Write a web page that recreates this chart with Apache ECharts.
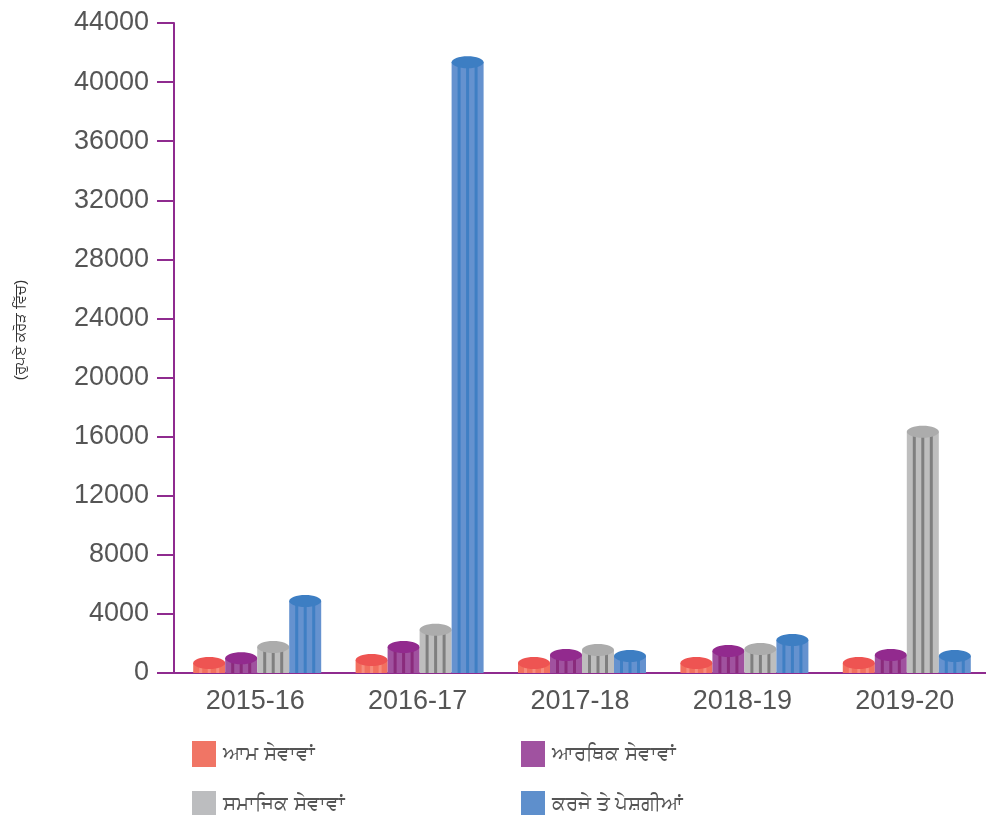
<!DOCTYPE html>
<html lang="pa">
<head>
    <meta charset="UTF-8">
    <title>ਖਰਚਾ</title>
    <script type="text/javascript" src="https://cdn.jsdelivr.net/npm/echarts@6/dist/echarts.min.js"></script>
    <style>
        html, body { margin: 0; padding: 0; background: #fff; }
        #chart { width: 986px; height: 815px; }
    </style>
</head>
<body>
<div id="chart"></div>
<script>
    // ਸਾਲ
    var years = ['2015-16', '2016-17', '2017-18', '2018-19', '2019-20'];
    var names = ['ਆਮ ਸੇਵਾਵਾਂ', 'ਆਰਥਿਕ ਸੇਵਾਵਾਂ', 'ਸਮਾਜਿਕ ਸੇਵਾਵਾਂ', 'ਕਰਜੇ ਤੇ ਪੇਸ਼ਗੀਆਂ'];
    var aamSewavan = [680, 880, 680, 680, 680];
    var aarthikSewavan = [1000, 1760, 1220, 1490, 1220];
    var samajikSewavan = [1760, 2920, 1560, 1630, 16330];
    var karjePeshgian = [4880, 41350, 1150, 2240, 1150];
    var yTicks = { min: 0, max: 44000, step: 4000 };

    var values = [aamSewavan, aarthikSewavan, samajikSewavan, karjePeshgian];
    // top, body, stripe, legend
    var colors = [
        ['#ee5452', '#f2705f', '#f78d7d', '#f07565'],
        ['#922a8e', '#a0529f', '#8a2b7c', '#a052a0'],
        ['#acacac', '#bebebe', '#7f7f7f', '#bcbdbf'],
        ['#3d7ec3', '#6592cf', '#3f7fc4', '#5e8fcc']
    ];
    var BW = 32;

    function cylinder(idx) {
        var c = colors[idx];
        return function (params, api) {
            var base = api.coord([api.value(0), 0]);
            var top = api.coord([api.value(0), api.value(1)]);
            var cx = base[0] + (idx - 1.5) * BW + 2;
            var x0 = cx - BW / 2;
            var kids = [{
                type: 'rect',
                shape: { x: x0, y: top[1], width: BW, height: base[1] - top[1] },
                style: { fill: c[1] }
            }];
            [6, 14.5, 23].forEach(function (sx) {
                kids.push({
                    type: 'rect',
                    shape: { x: x0 + sx, y: top[1], width: 3, height: base[1] - top[1] },
                    style: { fill: c[2] }
                });
            });
            kids.push({
                type: 'ellipse',
                shape: { cx: cx, cy: top[1], rx: BW / 2, ry: 6 },
                style: { fill: c[0] }
            });
            return { type: 'group', children: kids };
        };
    }

    var series = names.map(function (n, i) {
        return {
            name: n,
            type: 'custom',
            renderItem: cylinder(i),
            itemStyle: { color: colors[i][3] },
            encode: { x: 0, y: 1 },
            data: values[i].map(function (v, k) { return [k, v]; })
        };
    });

    var axisColor = '#8f2b8f';
    var font = "'Liberation Sans', Arial, sans-serif";
    // one legend per item, two columns
    var legendPos = [[192, 741], [521, 741], [192, 791], [521, 791]];
    var legends = names.map(function (n, i) {
        return {
            left: legendPos[i][0],
            top: legendPos[i][1],
            data: [n],
            icon: 'rect',
            itemWidth: 24,
            itemHeight: 26,
            padding: 0,
            textStyle: { fontSize: 20, color: '#555', fontFamily: font, padding: [0, 0, 0, 2] }
        };
    });

    var chart = echarts.init(document.getElementById('chart'));
    chart.setOption({
        animation: false,
        grid: { left: 174, right: -6, top: 23, bottom: 142, containLabel: false },
        legend: legends,
        graphic: [{
            type: 'text',
            x: 21,
            y: 330,
            rotation: Math.PI / 2,
            style: {
                text: '(ਰੁਪਏ ਕਰੋੜ ਵਿੱਚ)',
                fontSize: 15,
                fill: '#333',
                fontFamily: font,
                align: 'center',
                verticalAlign: 'middle'
            }
        }],
        xAxis: {
            type: 'category',
            data: years,
            axisLine: { lineStyle: { color: axisColor, width: 2 } },
            axisTick: { length: 17, lineStyle: { color: axisColor, width: 2 } },
            axisLabel: { fontSize: 27, color: '#555', margin: 15, fontFamily: font },
            splitLine: { show: false }
        },
        yAxis: {
            type: 'value',
            min: yTicks.min,
            max: yTicks.max,
            interval: yTicks.step,
            axisLine: { show: true, lineStyle: { color: axisColor, width: 2 } },
            axisTick: { show: true, length: 17, lineStyle: { color: axisColor, width: 2 } },
            axisLabel: {
                fontSize: 27, color: '#555', margin: 25, fontFamily: font,
                formatter: function (v) { return String(v); }
            },
            splitLine: { show: false }
        },
        series: series
    });
</script>
</body>
</html>
